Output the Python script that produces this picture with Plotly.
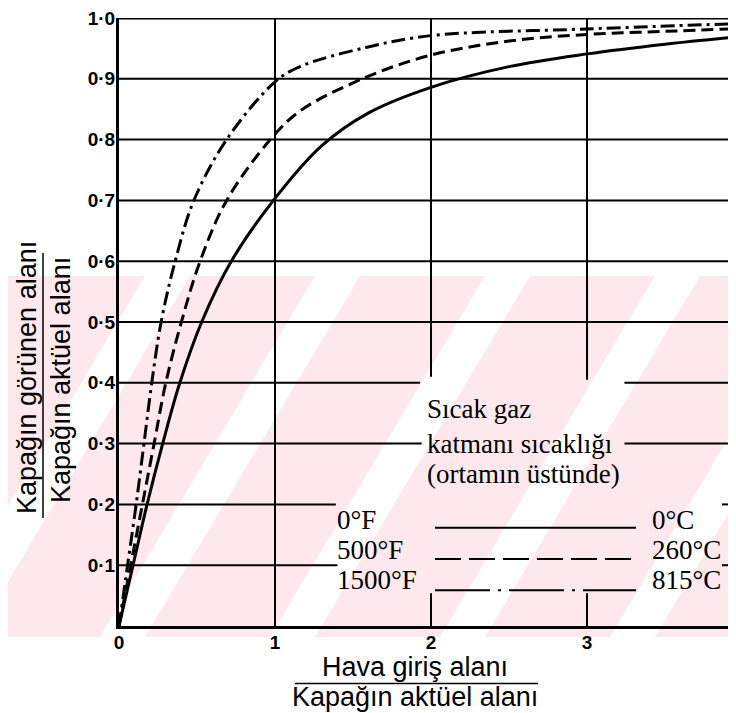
import plotly.graph_objects as go

x_0F = [0, 0.09, 0.18, 0.28, 0.39, 0.53, 0.72, 0.99, 1.3, 1.6, 2.0, 2.5, 3.0, 3.5, 4.0]
y_0F = [0, 0.1, 0.2, 0.3, 0.4, 0.5, 0.6, 0.7, 0.79, 0.844, 0.886, 0.92, 0.941, 0.957, 0.97]

x_500F = [0, 0.075, 0.15, 0.225, 0.30, 0.40, 0.52, 0.69, 0.97, 1.16, 1.56, 2.0, 2.5, 3.0, 3.5, 4.0]
y_500F = [0, 0.1, 0.2, 0.3, 0.4, 0.5, 0.6, 0.7, 0.8, 0.847, 0.9, 0.939, 0.962, 0.973, 0.978, 0.983]

x_1500F = [0, 0.055, 0.11, 0.16, 0.21, 0.27, 0.36, 0.48, 0.69, 1.0, 1.16, 1.59, 2.0, 3.0, 4.0]
y_1500F = [0, 0.1, 0.2, 0.3, 0.4, 0.5, 0.6, 0.7, 0.8, 0.895, 0.92, 0.952, 0.971, 0.982, 0.991]

y_ticks = [0.1, 0.2, 0.3, 0.4, 0.5, 0.6, 0.7, 0.8, 0.9, 1.0]
y_ticktext = ["0·1", "0·2", "0·3", "0·4", "0·5", "0·6", "0·7", "0·8", "0·9", "1·0"]
x_ticks = [0, 1, 2, 3]
x_ticktext = ["0", "1", "2", "3"]

legend_f = ["0°F", "500°F", "1500°F"]
legend_c = ["0°C", "260°C", "815°C"]
legend_title = ["Sıcak gaz", "katmanı sıcaklığı", "(ortamın üstünde)"]

# gridline gaps where the legend text sits
h_gaps = {0.4: (1.93, 3.24), 0.3: (1.94, 3.24), 0.2: (1.39, 3.865), 0.1: (1.40, 3.865)}
v_gaps = {2: (0.054, 0.41), 3: (0.054, 0.405)}

XMAX = 3.955
# plot area in page pixels; the page body adds an 8px offset
OFF = 8
L, R, T, B = 119, 736, 13, 626
W, H = 736 - OFF, 713 - OFF


def px(x):
    return (x - L) / (R - L)


def py(y):
    return (B - y) / (B - T)


fig = go.Figure()

dashes = ["solid", "12px,6px", "14px,5px,3px,5px"]
for xs, ys, d in [(x_0F, y_0F, dashes[0]), (x_500F, y_500F, dashes[1]), (x_1500F, y_1500F, dashes[2])]:
    fig.add_trace(go.Scatter(
        x=xs, y=ys, mode="lines",
        line=dict(color="black", width=3, dash=d, shape="spline", smoothing=1.0),
        showlegend=False, hoverinfo="skip",
    ))

shapes = []

# faint pink watermark band with white diagonal stripes
pink = "#fde9ed"
shapes.append(dict(type="rect", xref="paper", yref="paper",
                   x0=px(0), x1=1, y0=py(637), y1=py(273),
                   fillcolor=pink, line_width=0, layer="below"))
for xb in [-70, 100, 270, 440, 610]:
    p = "M {} {} L {} {} L {} {} L {} {} Z".format(
        px(xb), py(637), px(xb + 45), py(637), px(xb + 45 + 215), py(273), px(xb + 215), py(273))
    shapes.append(dict(type="path", xref="paper", yref="paper", path=p,
                       fillcolor="white", line_width=0, layer="below"))

# horizontal grid
for yv in y_ticks:
    w = 3 if yv == 1.0 else 2
    if yv in h_gaps:
        a, b = h_gaps[yv]
        segs = [(0, a), (b, XMAX)]
    else:
        segs = [(0, XMAX)]
    for a, b in segs:
        shapes.append(dict(type="line", x0=a, x1=b, y0=yv, y1=yv,
                           line=dict(color="black", width=w), layer="below"))

# vertical grid
for xv in [1, 2, 3]:
    if xv in v_gaps:
        a, b = v_gaps[xv]
        segs = [(0, a), (b, 1.0)]
    else:
        segs = [(0, 1.0)]
    for a, b in segs:
        shapes.append(dict(type="line", x0=xv, x1=xv, y0=a, y1=b,
                           line=dict(color="black", width=2), layer="below"))

# legend sample lines
for i, d in enumerate(["solid", "26px,8px", "55px,8px,3px,8px"]):
    yy = 527 + i * 31.5
    shapes.append(dict(type="line", xref="paper", yref="paper",
                       x0=px(435), x1=px(636), y0=py(yy), y1=py(yy),
                       line=dict(color="black", width=2, dash=d)))

# fraction bars for axis titles
shapes.append(dict(type="line", xref="paper", yref="paper",
                   x0=px(295), x1=px(538), y0=py(684), y1=py(684),
                   line=dict(color="black", width=1.5)))
shapes.append(dict(type="line", xref="paper", yref="paper",
                   x0=px(43), x1=px(43), y0=py(250), y1=py(517),
                   line=dict(color="black", width=1.5)))

annotations = []
sans = "Liberation Sans, Arial, sans-serif"
serif = "Liberation Serif, Times New Roman, serif"


def note(text, x, y, size, family, xanchor="center", angle=0):
    annotations.append(dict(text=text, x=px(x), y=py(y), xref="paper", yref="paper",
                            xanchor=xanchor, yanchor="middle", showarrow=False,
                            textangle=angle,
                            font=dict(family=family, size=size, color="black")))


note("Hava giriş alanı", 415, 667, 27, sans)
note("Kapağın aktüel alanı", 415, 698, 27, sans)
note("Kapağın görünen alanı", 27, 376, 27, sans, angle=-90)
note("Kapağın aktüel alanı", 61, 378, 27, sans, angle=-90)

for i, t in enumerate(legend_title):
    note(t, 425, [407, 442, 473][i], 27, serif, xanchor="left")
for i in range(3):
    yy = 519 + i * 30.5
    note(legend_f[i], 335, yy, 27, serif, xanchor="left")
    note(legend_c[i], 650, yy, 27, serif, xanchor="left")

# partial "4" at the right edge
annotations.append(dict(text="<b>4</b>", x=px(739), y=py(639), xref="paper", yref="paper",
                        xanchor="center", yanchor="middle", showarrow=False,
                        font=dict(family=sans, size=19, color="black")))

fig.update_layout(
    width=W, height=H,
    margin=dict(l=L - OFF, r=0, t=T - OFF, b=H - (B - OFF)),
    paper_bgcolor="white", plot_bgcolor="rgba(0,0,0,0)",
    shapes=shapes, annotations=annotations,
    showlegend=False,
    font=dict(family=sans, color="black"),
)
fig.update_xaxes(
    range=[0, XMAX], showgrid=False, zeroline=False,
    showline=True, linecolor="black", linewidth=3,
    tickvals=x_ticks, ticktext=x_ticktext, ticks="", ticklabelstandoff=-3,
    tickfont=dict(family=sans, size=19, color="black", weight="bold"),
)
fig.update_yaxes(
    range=[0, 1.0], showgrid=False, zeroline=False,
    showline=True, linecolor="black", linewidth=3,
    tickvals=y_ticks, ticktext=y_ticktext, ticks="", ticklabelstandoff=-3,
    ticklabeloverflow="allow",
    tickfont=dict(family=sans, size=19, color="black", weight="bold"),
)

fig.write_html("out.html")
